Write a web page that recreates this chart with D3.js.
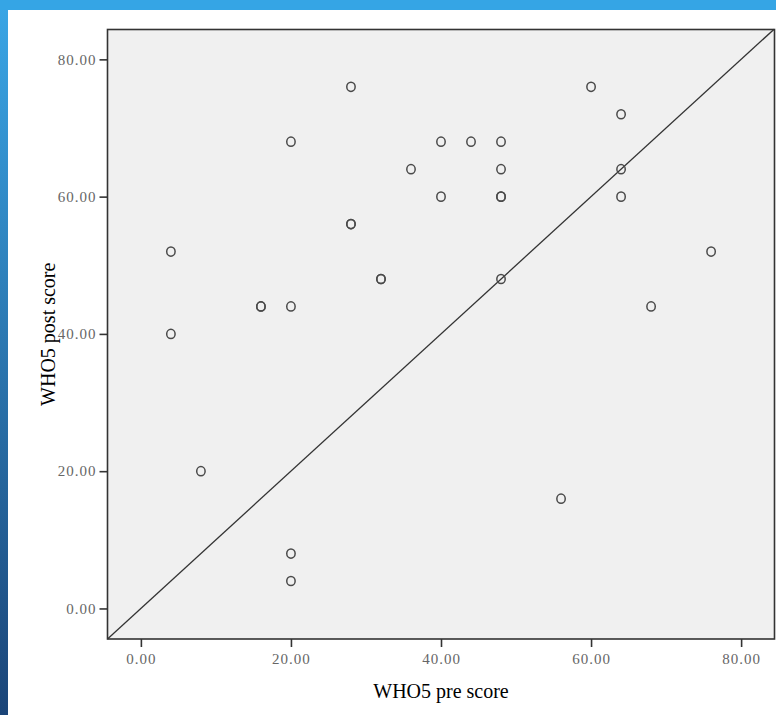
<!DOCTYPE html>
<html>
<head>
<meta charset="utf-8">
<script src="https://cdn.jsdelivr.net/npm/d3@7"></script>
<style>
  body { margin: 0; background: #fff; }
  svg { display: block; }
</style>
</head>
<body>
<div id="chart-container"></div>
<script>
// WHO5 pre vs post scatter, with y = x reference line
const svgWidth = 776;
const svgHeight = 715;

// data (duplicates listed twice -> darker rings)
const preScores  = [4, 4, 8, 16, 16, 20, 20, 20, 20, 28, 28, 28, 32, 32, 36, 40, 40, 44, 48, 48, 48, 48, 48, 56, 60, 64, 64, 64, 68, 76];
const postScores = [52, 40, 20, 44, 44, 68, 44, 8, 4, 76, 56, 56, 48, 48, 64, 68, 60, 68, 68, 64, 60, 60, 48, 16, 76, 72, 64, 60, 44, 52];
const tickValues = [0, 20, 40, 60, 80];
const xTitle = "WHO5 pre score";
const yTitle = "WHO5 post score";

const plot = { left: 107.5, right: 774.5, top: 29.5, bottom: 639 };

const svg = d3.select("#chart-container")
    .append("svg")
    .attr("width", svgWidth)
    .attr("height", svgHeight);

// blue frame (top bar + left stripe)
const defs = svg.append("defs");
const grad = defs.append("linearGradient")
    .attr("id", "stripe")
    .attr("x1", 0).attr("y1", 0).attr("x2", 0).attr("y2", 1);
grad.append("stop").attr("offset", "0%").attr("stop-color", "#3aa6e6");
grad.append("stop").attr("offset", "100%").attr("stop-color", "#1b4578");

svg.append("rect")
    .attr("x", 0).attr("y", 0)
    .attr("width", 8).attr("height", svgHeight)
    .attr("fill", "url(#stripe)");
svg.append("rect")
    .attr("x", 0).attr("y", 0)
    .attr("width", svgWidth).attr("height", 10)
    .attr("fill", "#35a5e5");

const x = d3.scaleLinear()
    .domain([-4.45, 84.45])
    .range([plot.left, plot.right]);

const y = d3.scaleLinear()
    .domain([-4.45, 84.35])
    .range([plot.bottom, plot.top]);

// plot background
svg.append("rect")
    .attr("x", plot.left)
    .attr("y", plot.top)
    .attr("width", plot.right - plot.left)
    .attr("height", plot.bottom - plot.top)
    .attr("fill", "#f0f0f0");

// axes
const fmt = d3.format(".2f");
const xAxis = svg.append("g")
    .attr("transform", `translate(0, ${plot.bottom})`)
    .call(d3.axisBottom(x).tickValues(tickValues).tickFormat(fmt).tickSize(8).tickPadding(6));

const yAxis = svg.append("g")
    .attr("transform", `translate(${plot.left}, 0)`)
    .call(d3.axisLeft(y).tickValues(tickValues).tickFormat(fmt).tickSize(8).tickPadding(3));

[xAxis, yAxis].forEach(g => {
    g.select(".domain").remove();
    g.selectAll(".tick line").attr("stroke", "#333").attr("stroke-width", 1.6);
    g.selectAll(".tick text")
        .attr("fill", "#666")
        .style("font-family", "'Liberation Serif', 'DejaVu Serif', serif")
        .style("font-size", "15px")
        .style("letter-spacing", "1px");
});

// reference line y = x across the whole plot
svg.append("line")
    .attr("x1", x(-4.45)).attr("y1", y(-4.45))
    .attr("x2", x(84.4)).attr("y2", y(84.4))
    .attr("stroke", "#333")
    .attr("stroke-width", 1.3);

// frame
svg.append("rect")
    .attr("x", plot.left)
    .attr("y", plot.top)
    .attr("width", plot.right - plot.left)
    .attr("height", plot.bottom - plot.top)
    .attr("fill", "none")
    .attr("stroke", "#333")
    .attr("stroke-width", 1.6);

// points
svg.append("g")
    .selectAll("ellipse")
    .data(preScores.map((p, i) => ({ pre: p, post: postScores[i] })))
    .enter()
    .append("ellipse")
    .attr("cx", d => x(d.pre))
    .attr("cy", d => y(d.post))
    .attr("rx", 4.2)
    .attr("ry", 4.6)
    .attr("fill", "none")
    .attr("stroke", "#4a4a4a")
    .attr("stroke-width", 1.5);

// axis titles
svg.append("text")
    .text(xTitle)
    .attr("x", (plot.left + plot.right) / 2)
    .attr("y", 698)
    .attr("text-anchor", "middle")
    .style("font-family", "'Liberation Serif', 'DejaVu Serif', serif")
    .style("font-size", "20px")
    .attr("fill", "#000");

svg.append("text")
    .text(yTitle)
    .attr("transform", `translate(55, ${(plot.top + plot.bottom) / 2}) rotate(-90)`)
    .attr("text-anchor", "middle")
    .style("font-family", "'Liberation Serif', 'DejaVu Serif', serif")
    .style("font-size", "20px")
    .attr("fill", "#000");
</script>
</body>
</html>
